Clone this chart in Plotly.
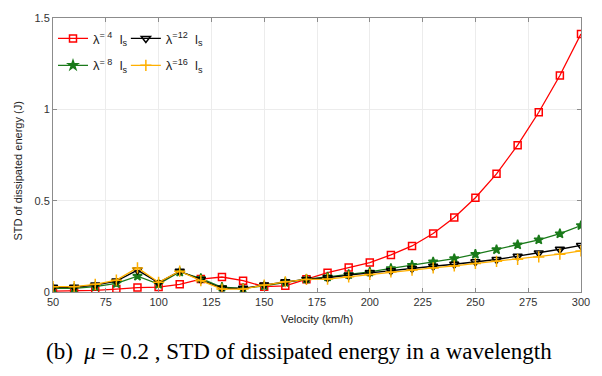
import plotly.graph_objects as go

# Train velocity (km/h)
velocity = [50, 60, 70, 80, 90, 100, 110, 120, 130, 140, 150, 160, 170,
            180, 190, 200, 210, 220, 230, 240, 250, 260, 270, 280, 290, 300]

# STD of dissipated energy (J) for each wavelength lambda = k * l_s
std_l4 = [0.005, 0.005, 0.009, 0.016, 0.024, 0.027, 0.042, 0.071, 0.082, 0.062, 0.029, 0.034, 0.070,
          0.106, 0.134, 0.161, 0.203, 0.252, 0.320, 0.408, 0.516, 0.647, 0.804, 0.984, 1.185, 1.413]
std_l8 = [0.020, 0.020, 0.029, 0.047, 0.087, 0.043, 0.110, 0.074, 0.026, 0.020, 0.034, 0.053, 0.071,
          0.083, 0.096, 0.110, 0.129, 0.147, 0.165, 0.183, 0.207, 0.232, 0.259, 0.286, 0.319, 0.364]
std_l12 = [0.026, 0.026, 0.038, 0.060, 0.120, 0.051, 0.114, 0.069, 0.020, 0.020, 0.038, 0.056, 0.069,
           0.078, 0.092, 0.105, 0.116, 0.129, 0.141, 0.152, 0.165, 0.178, 0.196, 0.214, 0.234, 0.255]
std_l16 = [0.029, 0.029, 0.042, 0.065, 0.132, 0.053, 0.114, 0.062, 0.016, 0.016, 0.038, 0.056, 0.069,
           0.071, 0.083, 0.096, 0.110, 0.120, 0.132, 0.143, 0.156, 0.168, 0.179, 0.192, 0.207, 0.225]

x_ticks = [50, 75, 100, 125, 150, 175, 200, 225, 250, 275, 300]
y_ticks = [0, 0.5, 1, 1.5]
y_tick_labels = ["0", "0.5", "1", "1.5"]

series = [
    ("λ<sup>= 4</sup>  l<sub>s</sub>", std_l4, "#ff0000", "square-open", 7, "legend"),
    ("λ<sup>= 8</sup>  l<sub>s</sub>", std_l8, "#1a7a1a", "star", 7, "legend"),
    ("λ<sup>=12</sup>  l<sub>s</sub>", std_l12, "#000000", "triangle-down-open", 8, "legend2"),
    ("λ<sup>=16</sup>  l<sub>s</sub>", std_l16, "#ffb000", "cross-thin-open", 8, "legend2"),
]

fig = go.Figure()
for i, (name, vals, color, symbol, size, leg) in enumerate(series):
    fig.add_trace(go.Scatter(
        x=velocity, y=vals, name=name, mode="lines+markers",
        line=dict(color=color, width=1.3),
        marker=dict(symbol=symbol, size=size, color=color,
                    line=dict(color=color, width=1.5)),
        legend=leg, legendgroup=f"g{i}",
    ))

sans = "Liberation Sans, Arial, sans-serif"
axis_common = dict(
    showline=True, linecolor="#8c8c8c", linewidth=1, mirror="ticks",
    ticks="inside", ticklen=4, tickcolor="#8c8c8c",
    showgrid=True, gridcolor="#ececec", gridwidth=1,
    zeroline=False,
    tickfont=dict(family=sans, size=11, color="#333333"),
    title_font=dict(family=sans, size=11, color="#222222"),
)

legend_common = dict(
    y=0.98, xanchor="left", yanchor="top",
    bgcolor="rgba(0,0,0,0)", itemwidth=30, tracegroupgap=7,
    font=dict(family=sans, size=13, color="#222222"),
)

fig.update_layout(
    width=602, height=376,
    margin=dict(l=53, r=15, t=16, b=84),
    paper_bgcolor="white", plot_bgcolor="white",
    xaxis=dict(range=[50, 300], tickvals=x_ticks,
               title=dict(text="Velocity (km/h)", standoff=8), **axis_common),
    yaxis=dict(range=[0, 1.5], tickvals=y_ticks, ticktext=y_tick_labels, **axis_common),
    legend=dict(x=0.0, **legend_common),
    legend2=dict(x=0.138, **legend_common),
    showlegend=True,
)

# y-axis title
fig.add_annotation(
    xref="paper", yref="paper", x=-0.066, y=0.44, xanchor="center", yanchor="middle",
    text="STD of dissipated energy (J)", textangle=-90, showarrow=False,
    font=dict(family=sans, size=11, color="#222222"),
)

# caption below the chart
fig.add_annotation(
    xref="paper", yref="paper", x=0.466, y=-0.217, xanchor="center", yanchor="middle",
    text="(b)  <i>μ</i> = 0.2 , STD of dissipated energy in a wavelength",
    showarrow=False,
    font=dict(family="Liberation Serif, Times New Roman, serif", size=23, color="#000000"),
)

fig.write_html("out.html")
